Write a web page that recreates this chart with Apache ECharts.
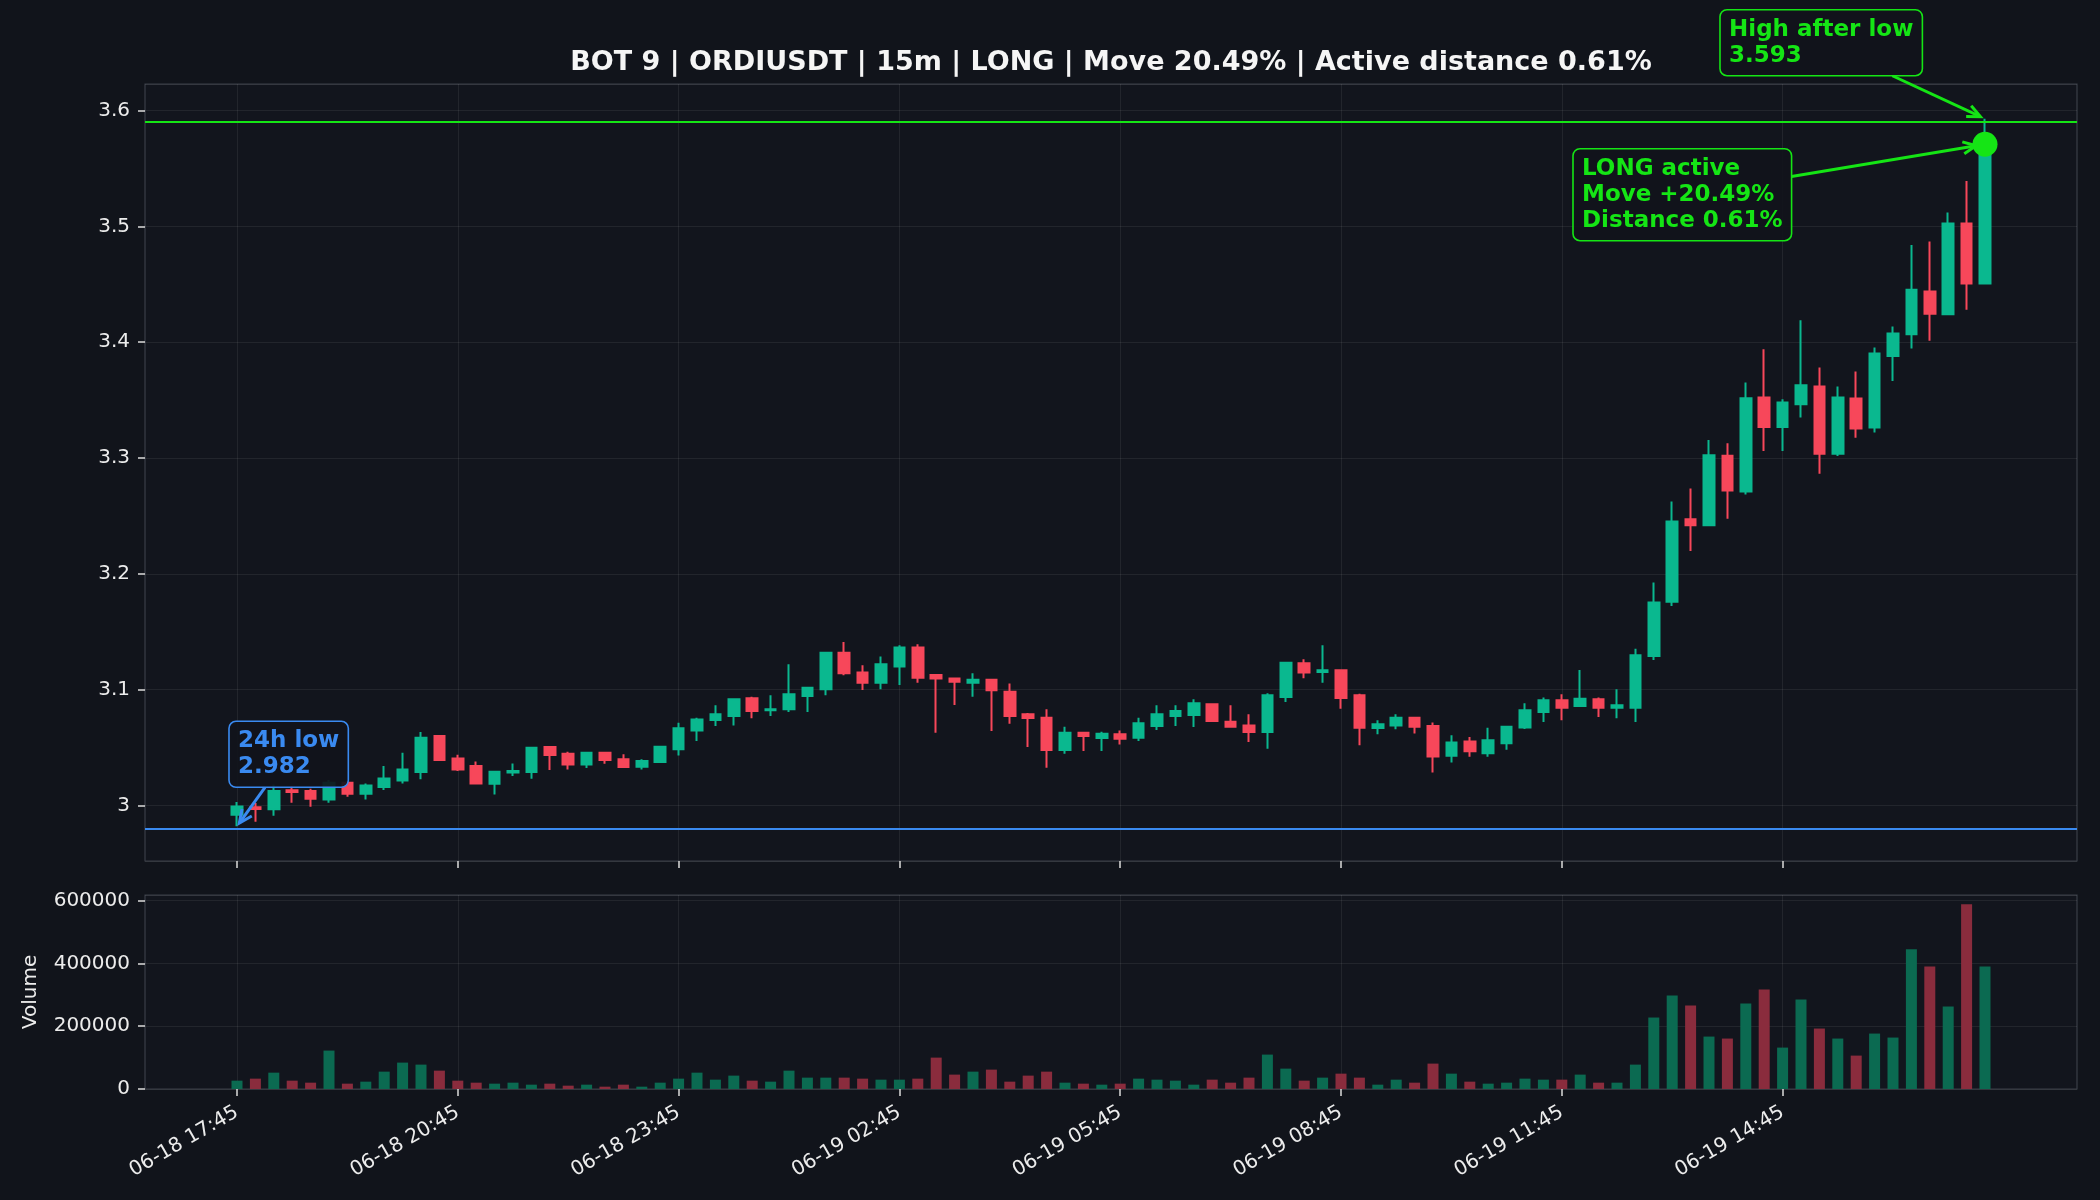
<!DOCTYPE html>
<html>
<head>
<meta charset="utf-8">
<title>BOT 9 | ORDIUSDT</title>
<script src="https://cdn.jsdelivr.net/npm/echarts@6.0.0/dist/echarts.min.js"></script>
<style>
  html, body { margin: 0; padding: 0; background: #11141b; }
  #chart { width: 2100px; height: 1200px; }
</style>
</head>
<body>
<div id="chart"></div>
<script>
  var titleText = 'BOT 9 | ORDIUSDT | 15m | LONG | Move 20.49% | Active distance 0.61%';

  // 15m candles from 06-18 17:45 to 06-19 17:30, [open, close, low, high]
  var candles = [
    [2.9920, 2.9990, 2.9820, 3.0030], [2.9985, 2.9970, 2.9860, 3.0020], [2.9966, 3.0124, 2.9910, 3.0180],
    [3.0130, 3.0115, 3.0023, 3.0167], [3.0124, 3.0058, 2.9988, 3.0144], [3.0052, 3.0196, 3.0023, 3.0220],
    [3.0196, 3.0101, 3.0075, 3.0210], [3.0101, 3.0173, 3.0052, 3.0190], [3.0158, 3.0233, 3.0133, 3.0340],
    [3.0216, 3.0311, 3.0190, 3.0455], [3.0288, 3.0585, 3.0225, 3.0634], [3.0600, 3.0392, 3.0390, 3.0605],
    [3.0406, 3.0311, 3.0297, 3.0438], [3.0340, 3.0190, 3.0190, 3.0380], [3.0187, 3.0291, 3.0095, 3.0291],
    [3.0285, 3.0297, 3.0253, 3.0363], [3.0288, 3.0498, 3.0230, 3.0500], [3.0504, 3.0435, 3.0305, 3.0513],
    [3.0447, 3.0354, 3.0311, 3.0464], [3.0354, 3.0455, 3.0323, 3.0458], [3.0455, 3.0392, 3.0360, 3.0458],
    [3.0398, 3.0331, 3.0331, 3.0441], [3.0334, 3.0383, 3.0311, 3.0398], [3.0375, 3.0507, 3.0372, 3.0510],
    [3.0484, 3.0666, 3.0432, 3.0714], [3.0648, 3.0743, 3.0556, 3.0758], [3.0737, 3.0787, 3.0686, 3.0864],
    [3.0772, 3.0916, 3.0691, 3.0919], [3.0925, 3.0815, 3.0752, 3.0939], [3.0821, 3.0830, 3.0772, 3.0951],
    [3.0830, 3.0960, 3.0807, 3.1219], [3.0945, 3.1017, 3.0807, 3.1023], [3.1003, 3.1319, 3.0951, 3.1320],
    [3.1319, 3.1141, 3.1124, 3.1412], [3.1147, 3.1060, 3.0997, 3.1210], [3.1060, 3.1219, 3.1003, 3.1285],
    [3.1199, 3.1363, 3.1040, 3.1383], [3.1363, 3.1103, 3.1060, 3.1392], [3.1126, 3.1095, 3.0628, 3.1126],
    [3.1095, 3.1069, 3.0867, 3.1095], [3.1060, 3.1086, 3.0939, 3.1141], [3.1086, 3.0994, 3.0642, 3.1086],
    [3.0982, 3.0772, 3.0706, 3.1052], [3.0787, 3.0755, 3.0504, 3.0798], [3.0758, 3.0478, 3.0326, 3.0830],
    [3.0478, 3.0628, 3.0447, 3.0680], [3.0628, 3.0599, 3.0470, 3.0634], [3.0582, 3.0619, 3.0470, 3.0637],
    [3.0614, 3.0576, 3.0527, 3.0648], [3.0585, 3.0709, 3.0556, 3.0758], [3.0686, 3.0787, 3.0651, 3.0864],
    [3.0772, 3.0815, 3.0686, 3.0864], [3.0781, 3.0882, 3.0677, 3.0916], [3.0873, 3.0729, 3.0720, 3.0876],
    [3.0723, 3.0680, 3.0680, 3.0864], [3.0691, 3.0634, 3.0547, 3.0787], [3.0634, 3.0951, 3.0490, 3.0968],
    [3.0936, 3.1233, 3.0893, 3.1235], [3.1227, 3.1147, 3.1098, 3.1262], [3.1152, 3.1167, 3.1060, 3.1383],
    [3.1167, 3.0928, 3.0835, 3.1167], [3.0951, 3.0671, 3.0519, 3.0965], [3.0668, 3.0700, 3.0614, 3.0735],
    [3.0691, 3.0758, 3.0657, 3.0787], [3.0758, 3.0680, 3.0620, 3.0758], [3.0686, 3.0423, 3.0285, 3.0715],
    [3.0428, 3.0544, 3.0370, 3.0605], [3.0553, 3.0467, 3.0420, 3.0590], [3.0450, 3.0562, 3.0420, 3.0670],
    [3.0536, 3.0680, 3.0480, 3.0680], [3.0672, 3.0821, 3.0660, 3.0882], [3.0807, 3.0908, 3.0720, 3.0931],
    [3.0908, 3.0844, 3.0735, 3.0960], [3.0859, 3.0922, 3.0853, 3.1170], [3.0916, 3.0844, 3.0764, 3.0931],
    [3.0844, 3.0865, 3.0752, 3.1003], [3.0844, 3.1297, 3.0720, 3.1354], [3.1291, 3.1752, 3.1256, 3.1925],
    [3.1758, 3.2452, 3.1723, 3.2625], [3.2472, 3.2420, 3.2198, 3.2737], [3.2420, 3.3025, 3.2420, 3.3156],
    [3.3020, 3.2720, 3.2476, 3.3127], [3.2710, 3.3516, 3.2685, 3.3652], [3.3522, 3.3268, 3.3061, 3.3940],
    [3.3268, 3.3479, 3.3061, 3.3508], [3.3464, 3.3629, 3.3349, 3.4190], [3.3617, 3.3038, 3.2865, 3.3781],
    [3.3038, 3.3522, 3.3018, 3.3617], [3.3513, 3.3254, 3.3176, 3.3747], [3.3263, 3.3902, 3.3220, 3.3954],
    [3.3882, 3.4075, 3.3666, 3.4136], [3.4069, 3.4453, 3.3946, 3.4839], [3.4438, 3.4245, 3.4012, 3.4870],
    [3.4242, 3.5026, 3.4236, 3.5121], [3.5026, 3.4507, 3.4280, 3.5392], [3.4507, 3.5710, 3.4507, 3.5930]
  ];

  var volumes = [
    26600, 33000, 52100, 26600, 20200, 122400, 17000, 23400, 55300, 84100, 77700, 58500,
    26600, 20200, 17000, 20200, 13800, 17000, 10600, 13800, 7400, 13800, 7400, 20200,
    33000, 52100, 29800, 42600, 26600, 23400, 58500, 36200, 36200, 36200, 33000, 29800,
    29800, 33000, 100000, 45800, 55300, 61700, 23400, 42600, 55300, 20200, 17000, 13800,
    17000, 33000, 29800, 26600, 13800, 29800, 20200, 36200, 109600, 64900, 26600, 36200,
    48900, 36200, 13800, 29800, 20200, 80900, 48900, 23400, 17000, 20200, 33000, 29800,
    29800, 45800, 20200, 20200, 77700, 227700, 297900, 266000, 167000, 160700, 272400, 317100,
    131900, 285200, 192600, 160700, 106400, 176600, 163900, 444800, 390500, 262800, 588400, 390500
  ];

  var tickLabels = ['06-18 17:45', '06-18 20:45', '06-18 23:45', '06-19 02:45',
                    '06-19 05:45', '06-19 08:45', '06-19 11:45', '06-19 14:45'];

  var low24h = 2.982;
  var highAfterLow = 3.593;
  var lastPrice = 3.571;

  var lowNote = ['24h low', '2.982'];
  var highNote = ['High after low', '3.593'];
  var longNote = ['LONG active', 'Move +20.49%', 'Distance 0.61%'];

  var upColor = '#0ab88f';
  var downColor = '#f7475a';
  var upVol = '#0b6a51';
  var downVol = '#8a2c3d';
  var green = '#15e515';
  var blue = '#3a8af0';
  var textColor = '#ececec';
  var gridColor = 'rgba(255,255,255,0.07)';
  var font = 'DejaVu Sans';

  var pad = 5;          // empty slots left and right (axis margins)
  var step = 12;        // one tick every 3 hours
  var n = candles.length;
  var cats = [];
  for (var k = 0; k < pad; k++) cats.push('L' + k);
  for (k = 0; k < n; k++) cats.push('c' + k);
  for (k = 0; k < pad; k++) cats.push('R' + k);

  function isTick(idx) {
    var j = idx - pad;
    return j >= 0 && j < n && j % step === 0;
  }

  var candleData = candles.map(function (c, i) { return [pad + i, c[0], c[1], c[2], c[3]]; });
  var volData = volumes.map(function (v, i) {
    var c = candles[i];
    return { value: [pad + i, v], itemStyle: { color: c[1] >= c[0] ? upVol : downVol } };
  });

  var chart = echarts.init(document.getElementById('chart'));

  var xBase = {
    type: 'category',
    data: cats,
    boundaryGap: false,
    axisLine: { show: false },
    axisTick: { show: true, interval: isTick, length: 7, lineStyle: { color: '#dcdcdc', width: 1.5 } },
    splitLine: { show: true, interval: isTick, lineStyle: { color: gridColor, width: 1 } }
  };

  chart.setOption({
    animation: false,
    backgroundColor: '#11141b',
    grid: [
      { left: 145, right: 23, top: 84, height: 777, show: true, backgroundColor: '#12151d',
        borderColor: '#3a3e48', borderWidth: 1.2, outerBoundsMode: 'none' },
      { left: 145, right: 23, top: 895, height: 194, show: true, backgroundColor: '#12151d',
        borderColor: '#3a3e48', borderWidth: 1.2, outerBoundsMode: 'none' }
    ],
    xAxis: [
      Object.assign({ gridIndex: 0, axisLabel: { show: false } }, xBase),
      Object.assign({ gridIndex: 1, axisLabel: {
        show: true, interval: isTick, rotate: 30, margin: 22,
        color: textColor, fontSize: 20, fontFamily: font,
        formatter: function (v, idx) { return tickLabels[(idx - pad) / step] || ''; }
      } }, xBase)
    ],
    yAxis: [
      {
        type: 'value', gridIndex: 0, min: 2.952, max: 3.623, splitNumber: 6,
        axisLine: { show: false },
        axisTick: { show: true, length: 7, lineStyle: { color: '#dcdcdc', width: 1.5 } },
        axisLabel: { color: textColor, fontSize: 20, fontFamily: font, margin: 15,
          showMinLabel: false, showMaxLabel: false,
          formatter: function (v) { return String(+v.toFixed(2)); } },
        splitLine: { lineStyle: { color: gridColor } }
      },
      {
        type: 'value', gridIndex: 1, min: 0, max: 618000, splitNumber: 3,
        name: 'Volume', nameLocation: 'middle', nameRotate: 90, nameGap: 104,
        nameTextStyle: { color: textColor, fontSize: 20, fontFamily: font },
        axisLine: { show: false },
        axisTick: { show: true, length: 7, lineStyle: { color: '#dcdcdc', width: 1.5 } },
        axisLabel: { color: textColor, fontSize: 20, fontFamily: font, margin: 15,
          showMaxLabel: false, formatter: function (v) { return String(v); } },
        splitLine: { lineStyle: { color: gridColor } }
      }
    ],
    series: [
      {
        type: 'candlestick',
        xAxisIndex: 0, yAxisIndex: 0,
        data: candleData,
        encode: { x: 0, y: [1, 2, 3, 4] },
        barWidth: 11,
        itemStyle: { color: upColor, color0: downColor, borderColor: upColor, borderColor0: downColor, borderWidth: 2 },
        markLine: {
          silent: true, symbol: 'none', label: { show: false }, animation: false,
          data: [
            { yAxis: highAfterLow, lineStyle: { color: green, width: 2.2, type: 'solid' } },
            { yAxis: low24h, lineStyle: { color: blue, width: 2.2, type: 'solid' } }
          ]
        }
      },
      {
        type: 'bar',
        xAxisIndex: 1, yAxisIndex: 1,
        barWidth: 11,
        data: volData
      },
      {
        type: 'scatter',
        xAxisIndex: 0, yAxisIndex: 0,
        symbolSize: 25, z: 10,
        itemStyle: { color: green, opacity: 1 },
        data: [[pad + n - 1, lastPrice]]
      }
    ]
  });

  // annotations: boxes + arrows placed relative to their data points
  var ctx = document.createElement('canvas').getContext('2d');
  var noteFont = 'bold 23px "' + font + '"';
  ctx.font = noteFont;

  function px(i, v) { return chart.convertToPixel({ gridIndex: 0 }, [pad + i, v]); }

  function note(lines, color, anchor, dx, dy, shrink) {
    var w = 0;
    lines.forEach(function (l) { w = Math.max(w, ctx.measureText(l).width); });
    var lh = 26, padX = 9, padY = 7;
    var bw = w + padX * 2, bh = lines.length * lh + padY * 2;
    var bx = anchor[0] + dx, by = anchor[1] + dy;
    var cx = bx + bw / 2, cy = by + bh / 2;
    var ddx = anchor[0] - cx, ddy = anchor[1] - cy;
    var t = Math.min(Math.abs(bw / 2 / ddx), Math.abs(bh / 2 / ddy));
    var tail = [cx + ddx * t, cy + ddy * t];
    var len = Math.sqrt(ddx * ddx + ddy * ddy);
    var ux = ddx / len, uy = ddy / len;
    var tip = [anchor[0] - ux * shrink, anchor[1] - uy * shrink];
    var hl = 13, hw = 6;
    var back = [tip[0] - ux * hl, tip[1] - uy * hl];
    var h1 = [back[0] - uy * hw, back[1] + ux * hw];
    var h2 = [back[0] + uy * hw, back[1] - ux * hw];
    return [
      { type: 'line', z: 20, shape: { x1: tail[0], y1: tail[1], x2: tip[0], y2: tip[1] },
        style: { stroke: color, lineWidth: 3 } },
      { type: 'polyline', z: 20, shape: { points: [h1, tip, h2] },
        style: { stroke: color, lineWidth: 3, fill: null, lineJoin: 'miter' } },
      { type: 'rect', z: 21, shape: { x: bx, y: by, width: bw, height: bh, r: 7 },
        style: { fill: 'rgba(17,20,27,0.92)', stroke: color, lineWidth: 1.6 } },
      { type: 'text', z: 22, x: bx + padX, y: by + padY,
        style: { text: lines.join('\n'), font: noteFont, fill: color, lineHeight: lh,
          textVerticalAlign: 'top', verticalAlign: 'top' } }
    ];
  }

  var lowPt = px(0, low24h);
  var highPt = px(n - 1, highAfterLow);
  var lastPt = px(n - 1, lastPrice);
  var plotCenter = (chart.convertToPixel({ gridIndex: 0 }, [0, 3])[0] +
                    chart.convertToPixel({ gridIndex: 0 }, [cats.length - 1, 3])[0]) / 2;

  var elements = [
    { type: 'text', z: 30, x: plotCenter, y: 63,
      style: { text: titleText, font: 'bold 27px "' + font + '"', fill: '#f5f5f5',
        textAlign: 'center', textVerticalAlign: 'middle', align: 'center', verticalAlign: 'middle' } }
  ];
  elements = elements
    .concat(note(lowNote, blue, lowPt, -8, -105, 4))
    .concat(note(highNote, green, highPt, -265, -109, 5))
    .concat(note(longNote, green, lastPt, -412, 4.5, 9));

  chart.setOption({ graphic: elements });
</script>
</body>
</html>
